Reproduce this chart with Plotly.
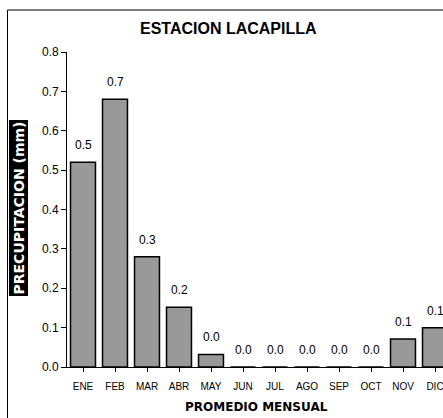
import plotly.graph_objects as go

# Monthly mean precipitation at station La Capilla
months = ["ENE", "FEB", "MAR", "ABR", "MAY", "JUN", "JUL", "AGO", "SEP", "OCT", "NOV", "DIC"]
precip = [0.52, 0.68, 0.28, 0.152, 0.032, 0.0, 0.0, 0.0, 0.0, 0.0, 0.071, 0.10]
y_ticks = [0.0, 0.1, 0.2, 0.3, 0.4, 0.5, 0.6, 0.7, 0.8]

FONT = "Arial, Liberation Sans, sans-serif"
WIDE = "DejaVu Sans, sans-serif"

W, H = 443, 418
left, top, bottom = 67, 52, 51
plot_w = W - left
step = 32.0  # pixels per category
x_hi = -0.5 + plot_w / step

fig = go.Figure()
fig.add_trace(go.Bar(
    x=list(range(len(months))),
    y=precip,
    width=0.78,
    marker=dict(color="#999999", line=dict(color="black", width=1.5)),
    cliponaxis=True,
    hoverinfo="skip",
))

annotations = []
# value labels above each bar
for i, v in enumerate(precip):
    annotations.append(dict(
        x=i, y=v, xref="x", yref="y", text=f"{v:.1f}", showarrow=False,
        yanchor="bottom", yshift=8, font=dict(family=FONT, size=12, color="#000000"),
    ))

def px_to_paper_x(px):
    return (px - left) / plot_w

def px_to_paper_y(py):
    return (H - bottom - py) / (H - top - bottom)

annotations += [
    dict(text="<b>ESTACION LACAPILLA</b>", x=px_to_paper_x(228), y=px_to_paper_y(28),
         xref="paper", yref="paper", showarrow=False, xanchor="center", yanchor="middle",
         font=dict(family=FONT, size=16, color="#000000")),
    dict(text="<b>PROMEDIO MENSUAL</b>", x=px_to_paper_x(256), y=px_to_paper_y(407),
         xref="paper", yref="paper", showarrow=False, xanchor="center", yanchor="middle",
         font=dict(family=WIDE, size=12, color="#000000")),
    dict(text="<b>PRECUPITACION (mm)</b>", x=px_to_paper_x(18.5), y=px_to_paper_y(208),
         xref="paper", yref="paper", showarrow=False, xanchor="center", yanchor="middle",
         textangle=-90, bgcolor="#000000", borderpad=1,
         font=dict(family=WIDE, size=14, color="#ffffff")),
]

fig.update_layout(
    template="none",
    width=W, height=H,
    margin=dict(l=left, r=0, t=top, b=bottom),
    paper_bgcolor="white", plot_bgcolor="white",
    showlegend=False,
    annotations=annotations,
    shapes=[dict(type="rect", xref="paper", yref="paper",
                 x0=px_to_paper_x(7.5), x1=1.2, y0=-0.5, y1=px_to_paper_y(10),
                 line=dict(color="black", width=1), fillcolor="rgba(0,0,0,0)", layer="below")],
)

fig.update_xaxes(
    range=[-0.5, x_hi],
    tickmode="array", tickvals=list(range(len(months))), ticktext=months,
    tickson="boundaries", ticks="outside", ticklen=4, tickcolor="black",
    ticklabelstandoff=6, ticklabeloverflow="allow",
    showline=True, linecolor="black", linewidth=1,
    showgrid=False, zeroline=False,
    tickfont=dict(family=FONT, size=10, color="#000000"),
    fixedrange=True,
)
fig.update_yaxes(
    range=[0, 0.8],
    tickmode="array", tickvals=y_ticks, ticktext=[f"{t:.1f}" for t in y_ticks],
    ticks="outside", ticklen=5, tickcolor="black",
    showline=True, linecolor="black", linewidth=1,
    showgrid=False, zeroline=False,
    tickfont=dict(family=FONT, size=12, color="#000000"),
    fixedrange=True,
)

fig.write_html("out.html", config={"displayModeBar": False})
